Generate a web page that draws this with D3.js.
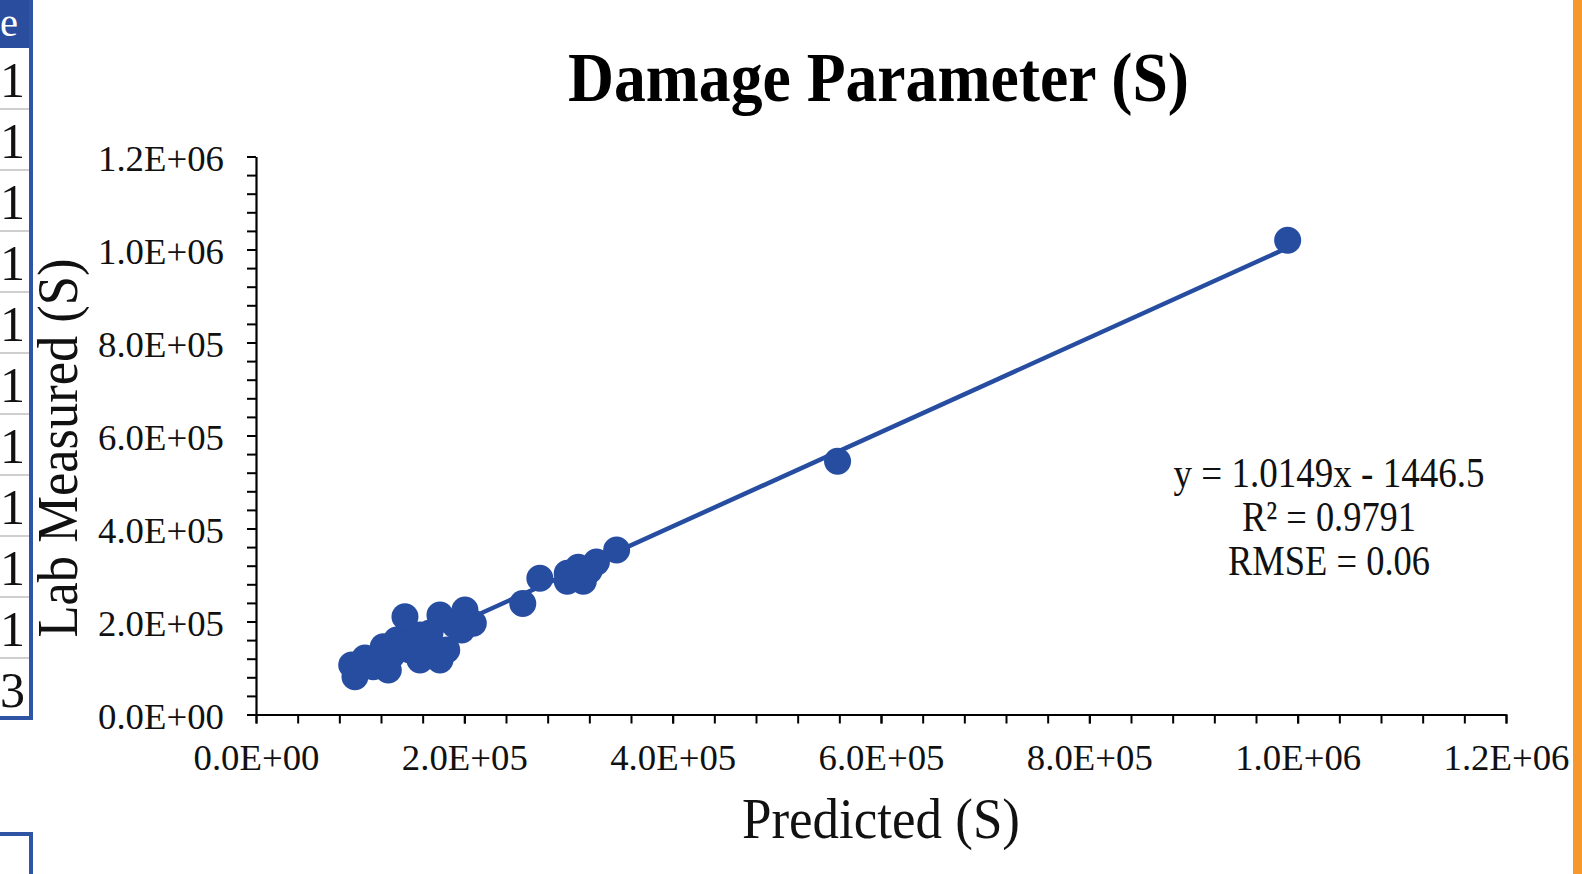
<!DOCTYPE html>
<html><head><meta charset="utf-8">
<script src="https://cdn.jsdelivr.net/npm/d3@7"></script>
<style>html,body{margin:0;padding:0;background:#fff;overflow:hidden}svg{display:block}</style>
</head><body>
<svg id="c" width="1582" height="874"></svg>
<script>
// ---- data ----
const predicted = [990400, 558300, 346200, 326800, 309400, 298800, 314200, 298800, 272500, 256100,
  306000, 320000,
  91900, 95000, 112600, 127000, 122200, 135100, 143000, 147800, 157400, 176600, 167000, 183100,
  176600, 200600, 197500, 208600, 104600, 130600, 138200, 152600, 162200, 123800, 191000, 157400];
const measured = [1020000, 544700, 353800, 327700, 316800, 303900, 286400, 286400, 292900, 238700,
  295000, 310000,
  106400, 81300, 102800, 95700, 145800, 160200, 210300, 138700, 117200, 117200, 175300, 138700,
  214000, 224700, 181700, 196100, 121500, 128000, 149500, 160200, 149500, 117200, 192500, 171000];
const xTicks = [0, 200000, 400000, 600000, 800000, 1000000, 1200000];
const yTicks = [0, 200000, 400000, 600000, 800000, 1000000, 1200000];
const slope = 1.0149, intercept = -1446.5;
const eqLines = ["y = 1.0149x - 1446.5", "R\u00B2 = 0.9791", "RMSE = 0.06"];
const tableHeader = "e";
const tableCells = ["1","1","1","1","1","1","1","1","1","1","3"];

const svg = d3.select("#c");
const blue = "#264DA0";
const serif = "'Liberation Serif','Times New Roman',serif";
const fmt = v => v === 0 ? "0.0E+00" : (v / Math.pow(10, Math.floor(Math.log10(v)))).toFixed(1) + "E+" + String(Math.floor(Math.log10(v))).padStart(2, "0");

// ---- side decorations (cropped table & bar) ----
svg.append("rect").attr("x", 1573).attr("y", 0).attr("width", 9).attr("height", 874).attr("fill", "#F7982F");
svg.append("rect").attr("x", 0).attr("y", 0).attr("width", 30).attr("height", 48).attr("fill", "#2B4D9E");
svg.append("text").attr("x", 0).attr("y", 36).attr("fill", "#fff")
  .attr("font-family", serif).attr("font-size", 40)
  .attr("textLength", 18).attr("lengthAdjust", "spacingAndGlyphs").text(tableHeader);
const rowH = 61;
tableCells.forEach((t, i) => {
  const y0 = 48 + i * rowH;
  if (i > 0) svg.append("line").attr("x1", 0).attr("x2", 29).attr("y1", y0).attr("y2", y0).attr("stroke", "#cfcfcf").attr("stroke-width", 2);
  svg.append("text").attr("x", 0).attr("y", y0 + rowH / 2 + 18)
    .attr("font-family", serif).attr("font-size", 50).attr("fill", "#111").text(t);
});
svg.append("rect").attr("x", 29).attr("y", 0).attr("width", 4).attr("height", 720).attr("fill", "#2F54A3");
svg.append("rect").attr("x", 0).attr("y", 716).attr("width", 33).attr("height", 4).attr("fill", "#2F54A3");
svg.append("rect").attr("x", 0).attr("y", 832).attr("width", 33).attr("height", 4).attr("fill", "#2F54A3");
svg.append("rect").attr("x", 29).attr("y", 832).attr("width", 4).attr("height", 42).attr("fill", "#2F54A3");

// ---- scales ----
const x = d3.scaleLinear().domain([0, 1200000]).range([256, 1506]);
const y = d3.scaleLinear().domain([0, 1200000]).range([714.5, 156.5]);

// minor ticks
const xMinor = d3.range(0, 1200001, 40000);
const yMinor = d3.range(0, 1200001, 40000);
svg.append("g").attr("transform", "translate(0,714.5)")
  .call(d3.axisBottom(x).tickValues(xMinor).tickSize(9).tickFormat(""))
  .call(g => { g.select(".domain").remove(); g.selectAll("line").attr("stroke", "#000").attr("stroke-width", 2); });
svg.append("g").attr("transform", "translate(256,0)")
  .call(d3.axisLeft(y).tickValues(yMinor).tickSize(9).tickFormat(""))
  .call(g => { g.select(".domain").remove(); g.selectAll("line").attr("stroke", "#000").attr("stroke-width", 2); });

// major axes
const xa = svg.append("g").attr("transform", "translate(0,714.5)")
  .call(d3.axisBottom(x).tickValues(xTicks).tickSize(9).tickSizeOuter(0).tickPadding(21).tickFormat(fmt));
const ya = svg.append("g").attr("transform", "translate(256,0)")
  .call(d3.axisLeft(y).tickValues(yTicks).tickSize(9).tickSizeOuter(0).tickPadding(23).tickFormat(fmt));
[xa, ya].forEach(g => {
  g.select(".domain").attr("stroke", "#000").attr("stroke-width", 2.2);
  g.selectAll("line").attr("stroke", "#000").attr("stroke-width", 2);
  g.selectAll("text").attr("font-family", serif).attr("font-size", 36).attr("fill", "#111")
    .attr("textLength", 126).attr("lengthAdjust", "spacingAndGlyphs");
});
ya.selectAll("text").attr("dy", "0.40em");

// ---- trendline ----
const xs = d3.extent(predicted);
svg.append("line")
  .attr("x1", x(xs[0])).attr("y1", y(slope * xs[0] + intercept))
  .attr("x2", x(xs[1])).attr("y2", y(slope * xs[1] + intercept))
  .attr("stroke", blue).attr("stroke-width", 4.5);

// ---- points ----
svg.append("g").selectAll("circle").data(predicted.map((p, i) => [p, measured[i]])).join("circle")
  .attr("cx", d => x(d[0])).attr("cy", d => y(d[1])).attr("r", 13.5).attr("fill", blue);

// ---- texts ----
svg.append("text").attr("x", 878.5).attr("y", 101).attr("text-anchor", "middle")
  .attr("font-family", serif).attr("font-weight", "bold").attr("font-size", 69).attr("fill", "#000")
  .attr("textLength", 621).attr("lengthAdjust", "spacingAndGlyphs").text("Damage Parameter (S)");
svg.append("text").attr("x", 881).attr("y", 838).attr("text-anchor", "middle")
  .attr("font-family", serif).attr("font-size", 57).attr("fill", "#111")
  .attr("textLength", 278).attr("lengthAdjust", "spacingAndGlyphs").text("Predicted (S)");
svg.append("text").attr("transform", "translate(77,448) rotate(-90)").attr("text-anchor", "middle")
  .attr("font-family", serif).attr("font-size", 57).attr("fill", "#111")
  .attr("textLength", 379).attr("lengthAdjust", "spacingAndGlyphs").text("Lab Measured (S)");
const eqW = [311, 174, 202];
const eqY = [487, 531, 575];
eqLines.forEach((t, i) => {
  svg.append("text").attr("x", 1329).attr("y", eqY[i]).attr("text-anchor", "middle")
    .attr("font-family", serif).attr("font-size", 42).attr("fill", "#111")
    .attr("textLength", eqW[i]).attr("lengthAdjust", "spacingAndGlyphs").text(t);
});
</script>
</body></html>
